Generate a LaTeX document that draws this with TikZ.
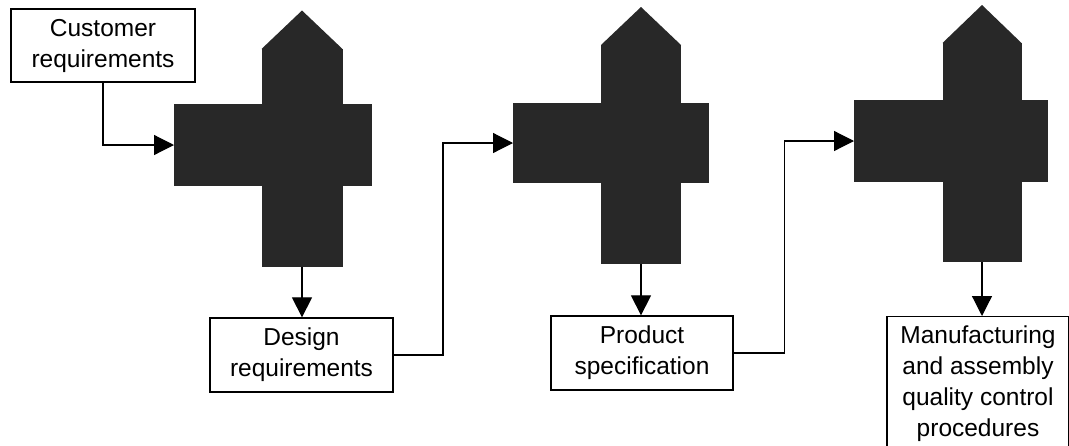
\documentclass[tikz,border=0pt]{standalone}
\usepackage{fontspec}
\setmainfont{Liberation Sans}
\usetikzlibrary{arrows.meta}
\definecolor{crossfill}{HTML}{282828}
\tikzset{
  bar/.style={fill=crossfill, draw=none, inner sep=0pt, outer sep=0pt},
  txtbox/.style={draw=black, line width=1.3pt, fill=white, align=center, inner sep=0pt,
    font=\fontsize{24.5}{31}\selectfont},
  conn/.style={line width=1.2pt, -{Triangle[length=20pt,width=20pt]}},
}
\begin{document}
\begin{tikzpicture}[x=1pt,y=-1pt]
\useasboundingbox (0,0) rectangle (1069,445);
\clip (0,0) rectangle (1069,445);
\fill[white] (0,0) rectangle (1069,445);

% crosses
\node[bar, minimum width=198pt, minimum height=82pt] (h1) at (273,145) {};
\node[bar, minimum width=81pt, minimum height=218pt] (v1) at (302,158) {};
\fill[crossfill] (v1.north west) -- ([yshift=38.5pt]v1.north) -- (v1.north east) -- cycle;

\node[bar, minimum width=196pt, minimum height=80pt] (h2) at (611,143) {};
\node[bar, minimum width=80pt, minimum height=219pt] (v2) at (641,154.5) {};
\fill[crossfill] (v2.north west) -- ([yshift=38pt]v2.north) -- (v2.north east) -- cycle;

\node[bar, minimum width=194pt, minimum height=82pt] (h3) at (951,141) {};
\node[bar, minimum width=79pt, minimum height=219pt] (v3) at (982,152.5) {};
\fill[crossfill] (v3.north west) -- ([yshift=38pt]v3.north) -- (v3.north east) -- cycle;

% boxes
\node[txtbox, minimum width=184pt, minimum height=73pt] (cust) at (103,45.5) {Customer\\requirements};
\node[txtbox, minimum width=183pt, minimum height=74pt] (design) at (301.5,355) {Design\\requirements};
\node[txtbox, minimum width=182pt, minimum height=74pt] (prod) at (642,353) {Product\\specification};
\node[txtbox, minimum width=182pt, minimum height=134pt, anchor=north] (manuf) at (978,316)
  {Manufacturing\\and assembly\\quality control\\procedures};

% turning points
\coordinate (k1) at (443,0);
\coordinate (k2) at (784.5,0);

% connectors
\draw[conn] (cust.south) |- (h1.west);
\draw[conn] (v1.south) -- (v1.south |- design.north);
\draw[conn] (design.east) -- (design.east -| k1) |- (h2.west);
\draw[conn] (v2.south) -- (v2.south |- prod.north);
\draw[conn] (prod.east) -- (prod.east -| k2) |- (h3.west);
\draw[conn] (v3.south) -- (v3.south |- manuf.north);
\end{tikzpicture}
\end{document}
